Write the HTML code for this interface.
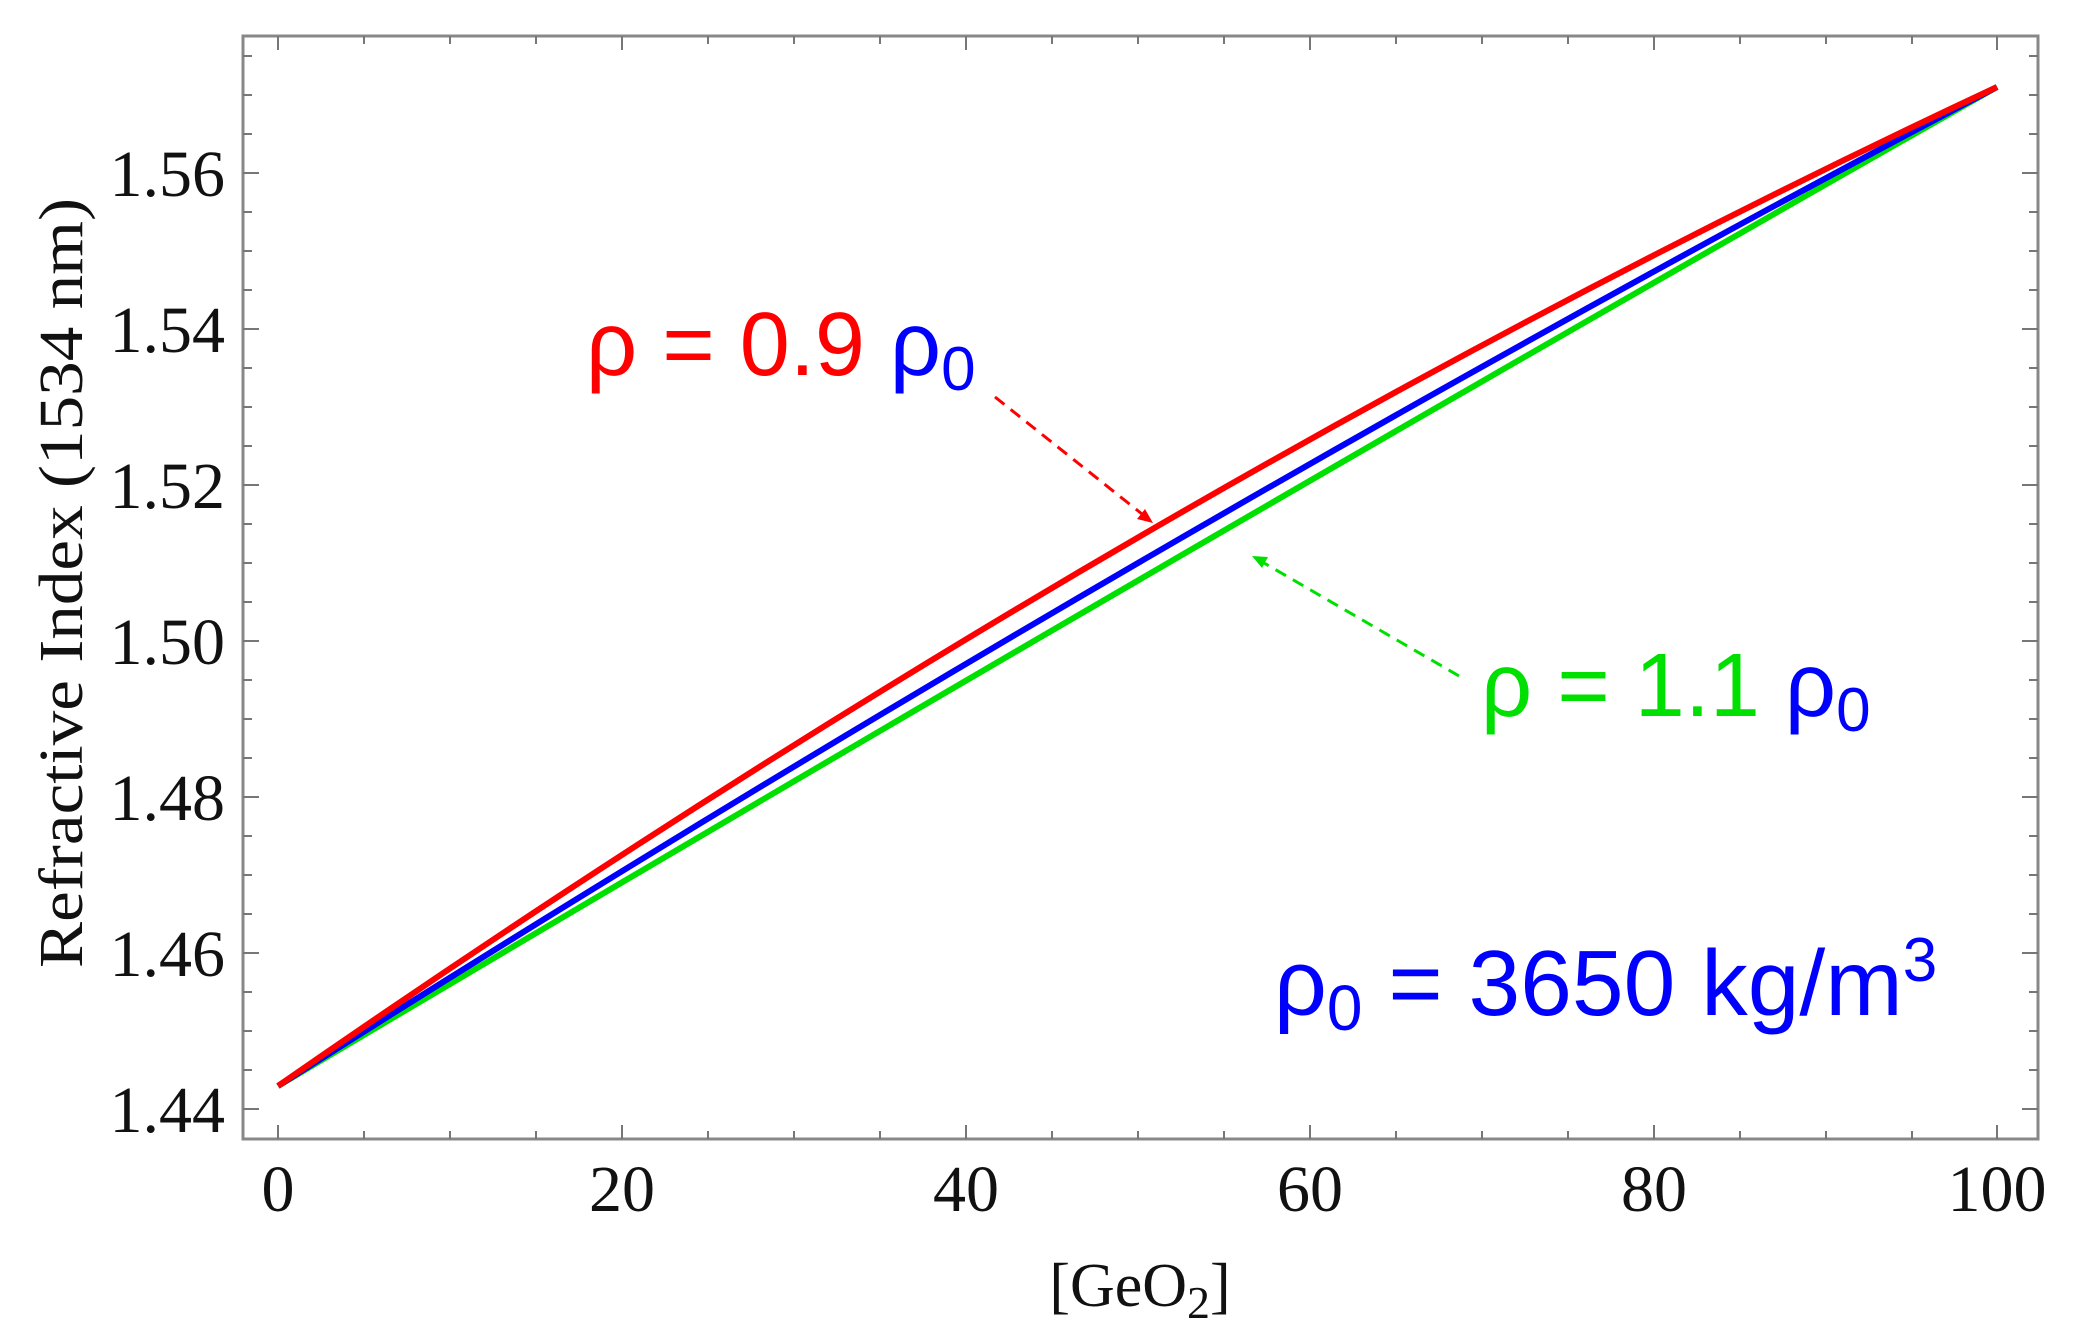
<!DOCTYPE html>
<html><head><meta charset="utf-8"><style>body{margin:0;background:#fff}svg{display:block}</style></head>
<body>
<svg width="2073" height="1336" viewBox="0 0 2073 1336" xmlns="http://www.w3.org/2000/svg">
<rect width="2073" height="1336" fill="#fff"/>
<g stroke="#888" stroke-width="3" fill="none">
<rect x="243" y="36" width="1795" height="1103"/>
</g>
<g stroke="#777" stroke-width="2">
<path d="M278,1139v-14M364,1139v-8M450,1139v-8M536,1139v-8M622,1139v-14M708,1139v-8M794,1139v-8M880,1139v-8M966,1139v-14M1052,1139v-8M1138,1139v-8M1224,1139v-8M1310,1139v-14M1396,1139v-8M1482,1139v-8M1568,1139v-8M1654,1139v-14M1740,1139v-8M1826,1139v-8M1912,1139v-8M1997,1139v-14"/>
<path d="M278,36v14M364,36v8M450,36v8M536,36v8M622,36v14M708,36v8M794,36v8M880,36v8M966,36v14M1052,36v8M1138,36v8M1224,36v8M1310,36v14M1396,36v8M1482,36v8M1568,36v8M1654,36v14M1740,36v8M1826,36v8M1912,36v8M1997,36v14"/>
<path d="M243,1109h16M243,1070h9M243,1031h9M243,992h9M243,953h16M243,914h9M243,875h9M243,836h9M243,797h16M243,758h9M243,719h9M243,680h9M243,641h16M243,602h9M243,563h9M243,524h9M243,485h16M243,446h9M243,407h9M243,368h9M243,329h16M243,290h9M243,251h9M243,212h9M243,173h16M243,134h9M243,95h9M243,56h9"/>
<path d="M2038,1109h-16M2038,1070h-9M2038,1031h-9M2038,992h-9M2038,953h-16M2038,914h-9M2038,875h-9M2038,836h-9M2038,797h-16M2038,758h-9M2038,719h-9M2038,680h-9M2038,641h-16M2038,602h-9M2038,563h-9M2038,524h-9M2038,485h-16M2038,446h-9M2038,407h-9M2038,368h-9M2038,329h-16M2038,290h-9M2038,251h-9M2038,212h-9M2038,173h-16M2038,134h-9M2038,95h-9M2038,56h-9"/>
</g>
<g font-family="Liberation Serif, serif" font-size="66" fill="#111">
<g text-anchor="end">
<text x="225" y="1132">1.44</text><text x="225" y="976">1.46</text><text x="225" y="820">1.48</text>
<text x="225" y="664">1.50</text><text x="225" y="508">1.52</text><text x="225" y="352">1.54</text><text x="225" y="196">1.56</text>
</g>
<g text-anchor="middle">
<text x="278" y="1211">0</text><text x="622" y="1211">20</text><text x="966" y="1211">40</text>
<text x="1310" y="1211">60</text><text x="1654" y="1211">80</text><text x="1997" y="1211">100</text>
<text x="1140" y="1306" font-size="62">[GeO<tspan font-size="46" dy="12">2</tspan><tspan dy="-12">]</tspan></text>
</g>
<text transform="translate(82,583) rotate(-90)" text-anchor="middle" font-size="62" textLength="770" lengthAdjust="spacingAndGlyphs">Refractive Index (1534 nm)</text>
</g>
<g fill="none" stroke-width="6">
<path d="M278,1086 Q1137.5,575 1997,87" stroke="#00e000"/>
<path d="M278,1086 Q1137.5,540 1997,87" stroke="#0000ff"/>
<path d="M278,1086 Q1137.5,489 1997,87" stroke="#ff0000"/>
</g>
<g stroke-width="3" stroke-dasharray="12,8" fill="none">
<path d="M995,397 L1142,514" stroke="#ff0000"/>
<path d="M1459,676 L1264,563" stroke="#00e000"/>
</g>
<path d="M1153,523 l-16,-4 l8,-10z" fill="#ff0000"/>
<path d="M1252,556 l16,1 l-6,11z" fill="#00e000"/>
<g font-family="Liberation Sans, sans-serif" font-size="90">
<text x="586" y="375" fill="#ff0000">ρ = 0.9 <tspan fill="#0000ff">ρ<tspan font-size="62" dy="15">0</tspan></tspan></text>
<text x="1481" y="716" fill="#00e000">ρ = 1.1 <tspan fill="#0000ff">ρ<tspan font-size="62" dy="15">0</tspan></tspan></text>
<text x="1274" y="1015" fill="#0000ff" font-size="93">ρ<tspan font-size="64" dy="15">0</tspan><tspan dy="-15"> = 3650 kg/m</tspan><tspan font-size="62" dy="-34">3</tspan></text>
</g>
</svg>
</body></html>
